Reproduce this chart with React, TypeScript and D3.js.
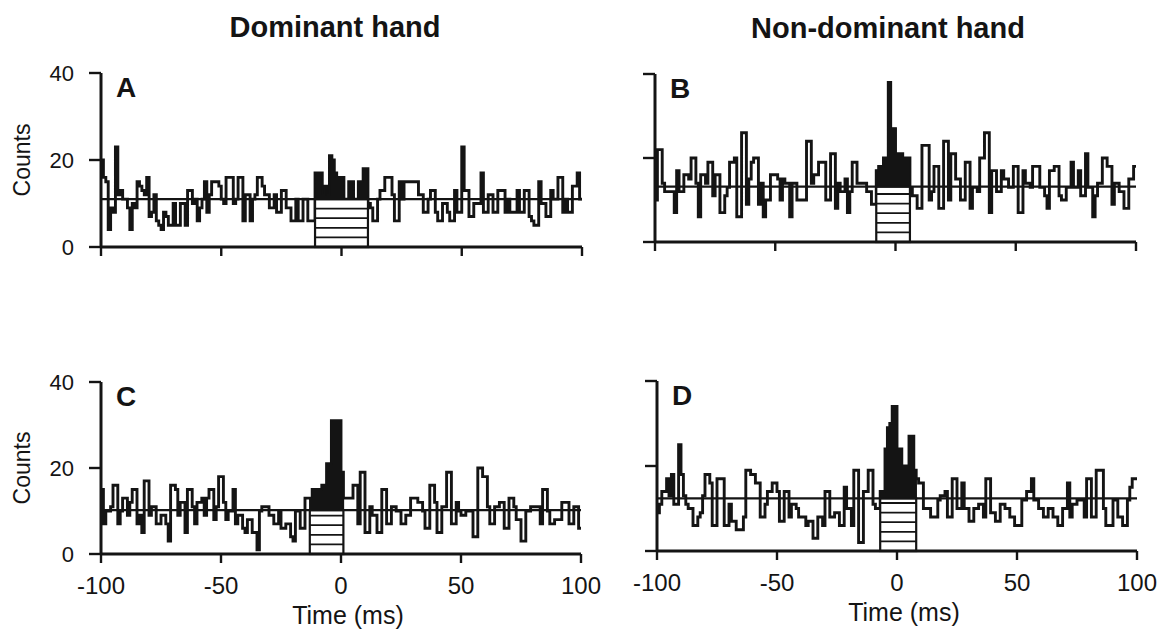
import React from 'react';
import * as d3 from 'd3';

// ---------- data ----------
const FIRST_BIN_MS = -100;
const BIN_MS = 1;
const LAST_EDGE_MS = 100;

const xTickValues = [-100, -50, 0, 50, 100];
const yTickValues = [0, 20, 40];
const columnTitles = ['Dominant hand', 'Non-dominant hand'];
const panelLetters = ['A', 'B', 'C', 'D'];
const xAxisTitle = 'Time (ms)';
const yAxisTitle = 'Counts';

// Counts per 1-ms bin, from -100 ms to +99 ms
const countsA = [
  20, 16, 15, 4, 9, 8, 23, 12, 13, 11,
  11, 9, 4, 10, 9, 15, 14, 13, 12, 16,
  7, 8, 12, 6, 5, 4, 8, 7, 5, 5,
  10, 5, 5, 10, 10, 5, 13, 13, 10, 11,
  6, 9, 11, 15, 8, 12, 15, 15, 15, 14,
  11, 10, 16, 16, 16, 10, 11, 16, 16, 6,
  12, 12, 6, 11, 12, 16, 16, 14, 12, 12,
  9, 9, 12, 8, 8, 13, 13, 9, 9, 6,
  6, 11, 6, 6, 11, 11, 6, 6, 6, 17,
  17, 17, 12, 14, 12, 21, 20, 17, 16, 16,
  16, 11, 11, 15, 15, 11, 11, 15, 15, 18,
  18, 10, 9, 6, 6, 11, 13, 13, 16, 16,
  16, 12, 6, 6, 15, 11, 15, 15, 15, 15,
  15, 15, 12, 12, 8, 8, 11, 13, 13, 8,
  6, 6, 10, 10, 8, 6, 6, 13, 8, 8,
  23, 13, 13, 7, 7, 10, 10, 10, 17, 8,
  8, 12, 12, 8, 8, 13, 13, 13, 8, 11,
  8, 8, 8, 13, 8, 8, 13, 13, 7, 6,
  5, 5, 15, 10, 10, 7, 7, 13, 11, 11,
  16, 16, 8, 11, 8, 8, 14, 14, 17, 11,
];

const countsB = [
  10, 22, 22, 14, 12, 12, 12, 12, 7, 17,
  12, 12, 16, 16, 15, 20, 20, 14, 6, 16,
  16, 14, 19, 19, 11, 16, 16, 7, 7, 11,
  13, 19, 19, 20, 6, 6, 26, 26, 9, 15,
  19, 20, 20, 9, 14, 6, 10, 10, 16, 16,
  16, 15, 10, 15, 14, 14, 6, 14, 14, 10,
  10, 10, 10, 24, 24, 14, 16, 16, 19, 19,
  19, 10, 10, 21, 21, 8, 14, 12, 12, 15,
  7, 12, 19, 19, 14, 14, 14, 14, 12, 12,
  9, 9, 17, 18, 18, 20, 20, 38, 27, 27,
  21, 21, 21, 20, 20, 20, 13, 11, 11, 8,
  8, 23, 23, 23, 10, 12, 18, 18, 8, 8,
  24, 24, 10, 21, 21, 15, 15, 10, 10, 19,
  19, 8, 13, 13, 12, 20, 20, 26, 26, 7,
  17, 17, 12, 12, 17, 15, 15, 13, 13, 18,
  18, 7, 7, 17, 14, 14, 13, 18, 18, 18,
  13, 13, 11, 8, 17, 17, 18, 18, 11, 10,
  10, 13, 13, 19, 13, 13, 17, 11, 11, 21,
  13, 13, 6, 11, 14, 14, 20, 20, 18, 18,
  9, 14, 14, 12, 12, 8, 8, 15, 15, 18,
];

const countsC = [
  15, 7, 10, 10, 11, 16, 16, 7, 10, 13,
  13, 9, 12, 15, 15, 7, 9, 5, 17, 17,
  9, 11, 11, 7, 7, 9, 9, 7, 3, 16,
  16, 15, 9, 12, 12, 5, 15, 15, 11, 7,
  12, 12, 13, 9, 13, 15, 15, 8, 11, 18,
  18, 12, 8, 10, 10, 15, 7, 9, 9, 6,
  5, 8, 8, 5, 5, 1, 10, 11, 11, 11,
  9, 9, 7, 7, 10, 6, 6, 7, 7, 4,
  3, 10, 10, 6, 6, 13, 13, 13, 15, 15,
  15, 15, 16, 16, 21, 21, 31, 31, 31, 31,
  19, 13, 13, 13, 13, 16, 16, 7, 19, 19,
  5, 5, 11, 9, 9, 5, 5, 15, 15, 7,
  7, 11, 11, 10, 10, 7, 7, 9, 9, 13,
  13, 13, 12, 12, 10, 6, 6, 16, 16, 12,
  5, 5, 11, 11, 19, 19, 7, 7, 12, 10,
  9, 9, 10, 10, 10, 4, 4, 20, 20, 18,
  18, 11, 7, 7, 11, 11, 12, 12, 6, 6,
  13, 13, 11, 8, 8, 3, 3, 10, 10, 11,
  11, 11, 11, 7, 15, 15, 10, 7, 7, 8,
  8, 8, 12, 12, 12, 7, 7, 11, 11, 6,
];

const countsD = [
  9, 11, 14, 14, 17, 13, 18, 11, 11, 25,
  18, 13, 11, 10, 10, 6, 6, 8, 9, 13,
  18, 18, 16, 6, 6, 17, 17, 17, 6, 6,
  11, 7, 7, 5, 5, 5, 8, 19, 19, 18,
  18, 16, 16, 8, 8, 11, 14, 14, 16, 16,
  14, 7, 7, 14, 14, 8, 11, 11, 10, 8,
  8, 8, 6, 7, 7, 3, 3, 8, 8, 6,
  14, 14, 8, 8, 9, 9, 6, 6, 15, 10,
  10, 6, 19, 19, 2, 2, 14, 14, 19, 19,
  11, 10, 10, 14, 14, 24, 29, 30, 34, 34,
  24, 24, 20, 20, 20, 27, 27, 19, 17, 16,
  16, 10, 10, 10, 8, 8, 8, 12, 13, 13,
  14, 8, 8, 17, 17, 10, 10, 16, 10, 10,
  7, 7, 10, 10, 11, 11, 8, 17, 17, 9,
  9, 7, 7, 11, 11, 10, 10, 8, 8, 6,
  6, 6, 12, 12, 14, 14, 17, 12, 12, 10,
  10, 8, 8, 10, 10, 8, 8, 6, 6, 10,
  10, 16, 8, 11, 11, 12, 12, 12, 8, 17,
  17, 8, 8, 19, 19, 19, 10, 6, 6, 6,
  12, 12, 8, 8, 6, 6, 12, 15, 17, 17,
];

// mean background level of each histogram (counts)
const baselineLevels = [11, 13.2, 10.2, 12.4];
// peak window (ms) marked by the hatched box
const peakWindowStart = [-11, -8, -13, -7];
const peakWindowEnd = [11, 6, 1, 8];

const panelCounts = [countsA, countsB, countsC, countsD];

// ---------- layout (pixels) ----------
const W = 1163;
const H = 633;
const INK = '#141414';
const FONT = '"Liberation Sans", Arial, Helvetica, sans-serif';

const panelBoxes = [
  { left: 101, right: 582, bottom: 247, top: 73, yLabels: true, xLabels: false },
  { left: 655, right: 1136, bottom: 242, top: 74, yLabels: false, xLabels: false },
  { left: 101, right: 581, bottom: 554, top: 382, yLabels: true, xLabels: true },
  { left: 657, right: 1137, bottom: 551, top: 381, yLabels: false, xLabels: true },
];

type Bin = { t: number; c: number };

function Panel({ idx }: { idx: number }) {
  const box = panelBoxes[idx];
  const counts = panelCounts[idx];
  const base = baselineLevels[idx];
  const w0 = peakWindowStart[idx];
  const w1 = peakWindowEnd[idx];

  const x = d3.scaleLinear().domain([-100, 100]).range([box.left, box.right]);
  const y = d3.scaleLinear().domain([0, 40]).range([box.bottom, box.top]);

  const bins: Bin[] = counts.map((c, i) => ({ t: FIRST_BIN_MS + i * BIN_MS, c }));
  const stepPts: Bin[] = [...bins, { t: LAST_EDGE_MS, c: counts[counts.length - 1] }];

  const line = d3
    .line<Bin>()
    .x((d) => x(d.t))
    .y((d) => y(d.c))
    .curve(d3.curveStepAfter);

  const inWin = bins.filter((b) => b.t >= w0 && b.t < w1);
  const winPts: Bin[] = [...inWin, { t: w1, c: inWin[inWin.length - 1].c }];
  const area = d3
    .area<Bin>()
    .x((d) => x(d.t))
    .y0(y(base))
    .y1((d) => y(Math.max(d.c, base)))
    .curve(d3.curveStepAfter);

  const stripeStep = 9.6;
  const stripes = d3.range(y(0) - stripeStep, y(base) + 2, -stripeStep);

  const tickLen = 12;
  const xTickLen = 9;

  return (
    <g>
      {/* histogram outline */}
      <path d={line(stepPts) || ''} fill="none" stroke={INK} strokeWidth={2.9} strokeLinejoin="miter" />
      {/* filled peak */}
      <path d={area(winPts) || ''} fill={INK} stroke={INK} strokeWidth={1.5} />
      {/* hatched box */}
      <rect
        x={x(w0)}
        y={y(base)}
        width={x(w1) - x(w0)}
        height={y(0) - y(base)}
        fill="#fff"
        stroke={INK}
        strokeWidth={2.2}
      />
      {stripes.map((sy, i) => (
        <line key={i} x1={x(w0)} x2={x(w1)} y1={sy} y2={sy} stroke={INK} strokeWidth={1.8} />
      ))}
      {/* baseline */}
      <line x1={x(-100)} x2={x(100)} y1={y(base)} y2={y(base)} stroke={INK} strokeWidth={2.2} />
      {/* y axis */}
      <line x1={x(-100)} x2={x(-100)} y1={y(0)} y2={y(40)} stroke={INK} strokeWidth={3} />
      {yTickValues.map((v) => (
        <line key={'yt' + v} x1={x(-100) - tickLen} x2={x(-100)} y1={y(v)} y2={y(v)} stroke={INK} strokeWidth={2.4} />
      ))}
      {box.yLabels &&
        yTickValues.map((v) => (
          <text
            key={'yl' + v}
            x={x(-100) - 27}
            y={y(v)}
            textAnchor="end"
            dominantBaseline="central"
            fontFamily={FONT}
            fontSize={22}
            fill={INK}
          >
            {v}
          </text>
        ))}
      {box.yLabels && (
        <text
          transform={`translate(22, ${(y(0) + y(40)) / 2}) rotate(-90)`}
          textAnchor="middle"
          dominantBaseline="central"
          fontFamily={FONT}
          fontSize={23}
          fill={INK}
        >
          {yAxisTitle}
        </text>
      )}
      {/* x axis */}
      <line x1={x(-100)} x2={x(100)} y1={y(0)} y2={y(0)} stroke={INK} strokeWidth={3} />
      {xTickValues.map((v) => (
        <line key={'xt' + v} x1={x(v)} x2={x(v)} y1={y(0)} y2={y(0) + xTickLen} stroke={INK} strokeWidth={2.4} />
      ))}
      {box.xLabels &&
        xTickValues.map((v) => (
          <text
            key={'xl' + v}
            x={x(v)}
            y={y(0) + 40}
            textAnchor="middle"
            fontFamily={FONT}
            fontSize={24}
            fill={INK}
          >
            {v}
          </text>
        ))}
      {box.xLabels && (
        <text x={x(0) + 7} y={y(0) + 70} textAnchor="middle" fontFamily={FONT} fontSize={25} fill={INK}>
          {xAxisTitle}
        </text>
      )}
      {/* panel letter */}
      <text x={x(-100) + 15} y={y(40) + 24} fontFamily={FONT} fontSize={28} fontWeight="bold" fill={INK}>
        {panelLetters[idx]}
      </text>
    </g>
  );
}

export default function App() {
  return (
    <svg
      width={W}
      height={H}
      viewBox={`0 0 ${W} ${H}`}
      style={{ position: 'absolute', left: 0, top: 0, background: '#fff' }}
    >
      <rect x={0} y={0} width={W} height={H} fill="#fff" />
      <text x={335} y={37} textAnchor="middle" fontFamily={FONT} fontSize={29} fontWeight="bold" fill={INK}>
        {columnTitles[0]}
      </text>
      <text x={888} y={38} textAnchor="middle" fontFamily={FONT} fontSize={29} fontWeight="bold" fill={INK}>
        {columnTitles[1]}
      </text>
      {panelBoxes.map((_, i) => (
        <Panel key={i} idx={i} />
      ))}
    </svg>
  );
}
